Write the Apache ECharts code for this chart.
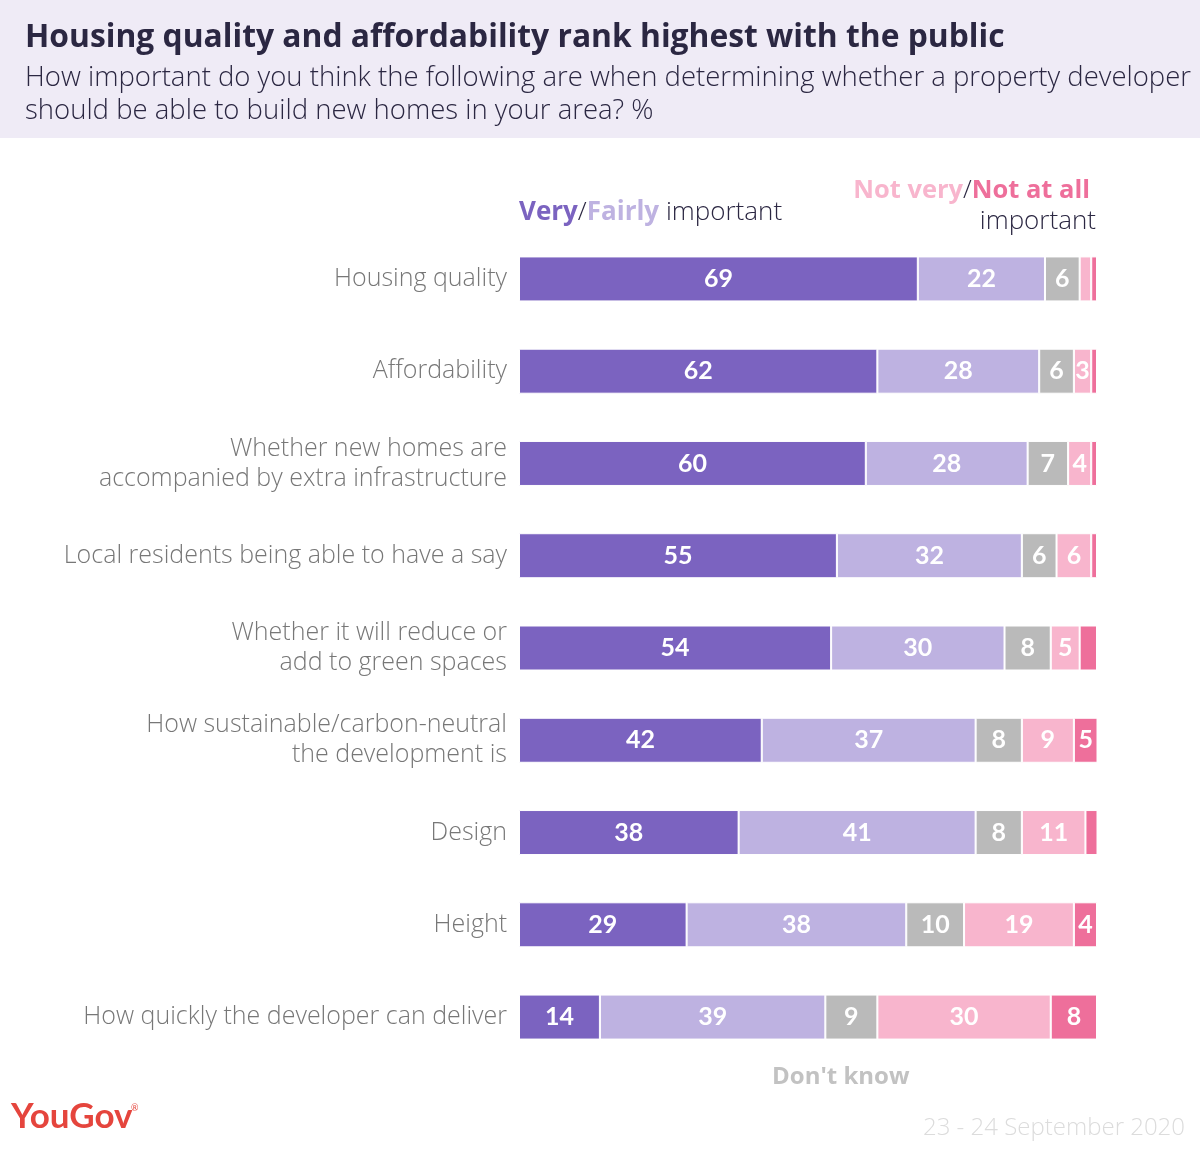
<!DOCTYPE html>
<html><head><meta charset="utf-8">
<script src="https://cdn.jsdelivr.net/npm/echarts@6/dist/echarts.min.js"></script>
<style>html,body{margin:0;padding:0;background:#fff}#c{width:1200px;height:1157px}</style>
</head><body><div id="c"></div>
<script>
var categories = [
  "Housing quality",
  "Affordability",
  "Whether new homes are\naccompanied by extra infrastructure",
  "Local residents being able to have a say",
  "Whether it will reduce or\nadd to green spaces",
  "How sustainable/carbon-neutral\nthe development is",
  "Design",
  "Height",
  "How quickly the developer can deliver"
];
var veryImportant   = [69, 62, 60, 55, 54, 42, 38, 29, 14];
var fairlyImportant = [22, 28, 28, 32, 30, 37, 41, 38, 39];
var dontKnow        = [6, 6, 7, 6, 8, 8, 8, 10, 9];
var notVery         = [2, 3, 4, 6, 5, 9, 11, 19, 30];
var notAtAll        = [1, 1, 1, 1, 3, 5, 3, 4, 8];

var FONT = "'Open Sans', Lato, sans-serif";
var LFONT = "Lato, sans-serif";
var chart = echarts.init(document.getElementById('c'));

function mk(name, data, color, minLabel) {
  return {
    name: name, type: 'bar', stack: 'all', data: data, barWidth: 45,
    itemStyle: { color: color, borderColor: '#fff', borderWidth: 1 },
    label: {
      show: true, position: 'inside', color: '#fff',
      fontFamily: LFONT, fontWeight: 'bold', fontSize: 25,
      formatter: function (p) { return p.value >= minLabel ? String(p.value) : ''; }
    },
    emphasis: { disabled: true }
  };
}

chart.setOption({
  animation: false,
  grid: { left: 519, right: 103, top: 232.8, bottom: 1157 - 1063.2, containLabel: false },
  xAxis: { type: 'value', min: 0, max: 100, show: false },
  yAxis: {
    type: 'category', data: categories, inverse: true,
    axisLine: { show: false }, axisTick: { show: false }, splitLine: { show: false },
    axisLabel: { color: '#777', fontFamily: FONT, fontWeight: 300, fontSize: 25, margin: 12, lineHeight: 30, align: 'right' }
  },
  series: [
    mk('Very', veryImportant, '#7b63c0', 1),
    mk('Fairly', fairlyImportant, '#beb2e1', 1),
    mk("Don't know", dontKnow, '#bababa', 1),
    mk('Not very', notVery, '#f8b5cd', 3),
    mk('Not at all', notAtAll, '#ee6f9b', 4)
  ],
  graphic: [
    { type: 'rect', left: 0, top: 0, shape: { width: 1200, height: 138 }, style: { fill: '#efebf6' }, z: -1 },
    { type: 'text', left: 25, top: 22, style: { text: 'Housing quality and affordability rank highest with the public', font: 'bold 31.8px ' + FONT, fill: '#2b2742' } },
    { type: 'text', left: 25, top: 62, style: { text: 'How important do you think the following are when determining whether a property developer\nshould be able to build new homes in your area? %', font: '300 27.5px ' + FONT, fill: '#2b2742', lineHeight: 33 } },
    { type: 'text', left: 519, top: 200, style: {
        rich: {
          v: { font: 'bold 26px ' + FONT, fill: '#7b63c0' },
          s: { font: '300 26px ' + FONT, fill: '#2b2742' },
          f: { font: 'bold 26px ' + FONT, fill: '#beb2e1' }
        },
        text: '{v|Very}{s|/}{f|Fairly}{s| important}' } },
    { type: 'text', right: 110, top: 178, style: {
        rich: {
          a: { font: 'bold 25.5px ' + FONT, fill: '#f8b5cd' },
          s: { font: '300 25.5px ' + FONT, fill: '#2b2742' },
          b: { font: 'bold 25.5px ' + FONT, fill: '#ee6f9b' }
        },
        text: '{a|Not very}{s|/}{b|Not at all}' } },
    { type: 'text', right: 104, top: 209, style: { text: 'important', font: '300 26px ' + FONT, fill: '#2b2742' } },
    { type: 'text', left: 772, top: 1065, style: { text: "Don't know", font: 'bold 24px ' + FONT, fill: '#c2c2c2' } },
    { type: 'text', left: 11, top: 1099, style: { text: 'YouGov', font: 'bold 35px ' + LFONT, fill: '#e5453d' } },
    { type: 'text', left: 131, top: 1104, style: { text: '®', font: '9px ' + LFONT, fill: '#e5453d' } },
    { type: 'text', right: 15, top: 1116, style: { text: '23 - 24 September 2020', font: '300 24px ' + FONT, fill: '#dcdcdc' } }
  ]
});
</script></body></html>
